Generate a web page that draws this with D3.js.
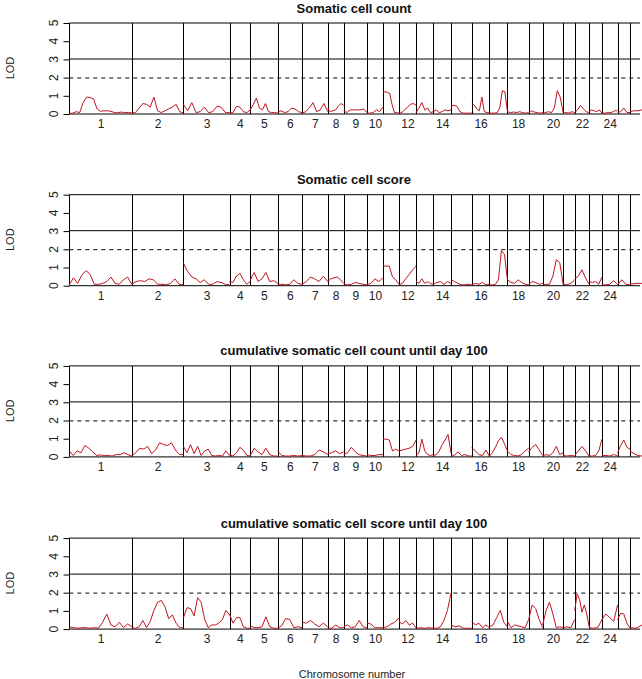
<!DOCTYPE html>
<html>
<head>
<meta charset="utf-8">
<script src="https://cdn.jsdelivr.net/npm/d3@7"></script>
<style>
  body { margin: 0; background: #fff; }
  svg { display: block; font-family: "Liberation Sans", Arial, sans-serif; }
</style>
</head>
<body>
<script>
const width = 642;
const height = 679;

// chromosome layout (cM-ish lengths, chr 26 runs off the edge)
const chrNames = d3.range(1, 27).map(String);
const chrLengths = [156, 129, 115, 52, 68, 61, 64, 40, 58, 40, 40, 43, 43, 44, 52, 44, 45, 53, 35, 51, 29, 36, 32, 39, 31, 30];
const chrShown = ["1", "2", "3", "4", "5", "6", "7", "8", "9", "10", "12", "14", "16", "18", "20", "22", "24"];

const titles = [
  "Somatic cell count",
  "Somatic cell score",
  "cumulative somatic cell count until day 100",
  "cumulative somatic cell score until day 100"
];
const lodTicks = [0, 1, 2, 3, 4, 5];
const threshold = 2;
const solidLines = [0, 3, 5];

// LOD profiles, one array per chromosome (evenly spaced along the chromosome)
const lodSCC = [
  [0, 0.02, 0.1, 0.05, 0.6, 0.9, 0.88, 0.8, 0.25, 0.12, 0.15, 0.15, 0.12, 0.05, 0.04, 0.08, 0.04, 0.06, 0.03],
  [0.02, 0.05, 0.3, 0.55, 0.5, 0.35, 0.9, 0.15, 0.05, 0.15, 0.25, 0.35, 0.5, 0.1, 0.02],
  [0.5, 0.15, 0.6, 0.05, 0.1, 0.35, 0.05, 0.1, 0.4, 0.35, 0.05, 0.05],
  [0.02, 0.05, 0.4, 0.35, 0.1, 0.05, 0.2],
  [0.2, 0.5, 0.85, 0.3, 0.2, 0.55, 0.1, 0.05, 0.05, 0.03],
  [0.05, 0.15, 0.05, 0.1, 0.3, 0.25, 0.1, 0.05],
  [0.02, 0.1, 0.3, 0.6, 0.1, 0.2, 0.55, 0.1],
  [0.3, 0.1, 0.15, 0.2, 0.4, 0.55, 0.45],
  [0.15, 0.05, 0.2, 0.2, 0.2, 0.2, 0.25, 0.05],
  [0.02, 0.02, 0.05, 0.2, 0.1, 0.35],
  [1.15, 1.2, 1.15, 1.1, 0.5, 0.05, 0.05, 0.02],
  [0.02, 0.05, 0.2, 0.35, 0.5, 0.55, 0.45],
  [0.05, 0.3, 0.6, 0.2, 0.3, 0.05, 0.1],
  [0.1, 0.2, 0.05, 0.1, 0.2, 0.15, 0.2],
  [0.4, 0.45, 0.4, 0.1, 0.02, 0.02, 0.02, 0.02],
  [0.55, 0.45, 0.25, 0.15, 0.9, 0.1, 0.05, 0.02],
  [0.02, 0.02, 0.02, 0.05, 0.3, 1.25, 1.2, 0.1],
  [0.1, 0.05, 0.08, 0.05, 0.1, 0.05, 0.02, 0.05],
  [0.02, 0.15, 0.08, 0.05, 0.02, 0.05],
  [0.02, 0.05, 0.1, 0.05, 0.3, 1.25, 0.9, 0.05],
  [0.02, 0.05, 0.02, 0.1, 0.05],
  [0.05, 0.2, 0.45, 0.25, 0.1, 0.05],
  [0.1, 0.2, 0.15, 0.1, 0.2, 0.02],
  [0.02, 0.02, 0.05, 0.05, 0.15, 0.15],
  [0.05, 0.1, 0.3, 0.05, 0.05],
  [0.1, 0.15, 0.15, 0.2]
];

const lodSCS = [
  [0.02, 0.4, 0.1, 0.55, 0.8, 0.6, 0.05, 0.05, 0.1, 0.2, 0.45, 0.1, 0.05, 0.3, 0.45, 0.05],
  [0.05, 0.2, 0.25, 0.2, 0.35, 0.3, 0.05, 0.05, 0.02, 0.1, 0.35, 0.05, 0.02],
  [1.2, 0.75, 0.45, 0.35, 0.15, 0.3, 0.05, 0.05, 0.2, 0.15, 0.05, 0.02],
  [0.2, 0.15, 0.5, 0.65, 0.3, 0.05, 0.2],
  [0.3, 0.7, 0.2, 0.35, 0.7, 0.2, 0.25, 0.1],
  [0.05, 0.05, 0.02, 0.05, 0.3, 0.1, 0.05],
  [0.05, 0.2, 0.45, 0.35, 0.2, 0.5, 0.2],
  [0.2, 0.35, 0.4, 0.45, 0.3, 0.1],
  [0.05, 0.02, 0.05, 0.15, 0.1, 0.05, 0.02],
  [0.02, 0.1, 0.35, 0.2, 0.4],
  [1.05, 1.05, 1.05, 0.45, 0.3, 0.05],
  [0.02, 0.1, 0.35, 0.6, 0.85, 1.05],
  [0.2, 0.1, 0.35, 0.1, 0.2, 0.1, 0.05],
  [0.05, 0.15, 0.2, 0.05, 0.2, 0.1],
  [0.3, 0.2, 0.1, 0.02, 0.02, 0.05, 0.02],
  [0.02, 0.1, 0.05, 0.15, 0.02, 0.05],
  [0.02, 0.02, 0.05, 0.3, 1.9, 1.7, 0.3],
  [0.3, 0.15, 0.1, 0.3, 0.15, 0.05, 0.02],
  [0.05, 0.2, 0.15, 0.05, 0.1],
  [0.02, 0.05, 0.05, 0.5, 1.4, 1.25, 0.05],
  [0.05, 0.02, 0.1, 0.3],
  [0.35, 0.5, 0.85, 0.4, 0.05],
  [0.2, 0.15, 0.2, 0.05, 0.45],
  [0.02, 0.02, 0.05, 0.25, 0.05],
  [0.02, 0.3, 0.05, 0.02],
  [0.05, 0.1, 0.1]
];

const lodCumSCC = [
  [0.3, 0.05, 0.3, 0.2, 0.6, 0.45, 0.25, 0.05, 0.08, 0.05, 0.05, 0.02, 0.1, 0.1, 0.2, 0.1, 0.02],
  [0.05, 0.2, 0.45, 0.4, 0.55, 0.15, 0.35, 0.75, 0.65, 0.6, 0.75, 0.35, 0.1, 0.1],
  [0.55, 0.2, 0.65, 0.15, 0.55, 0.05, 0.3, 0.4, 0.05, 0.02, 0.05, 0.02, 0.3, 0.05],
  [0.1, 0.02, 0.2, 0.5, 0.35, 0.05, 0.02],
  [0.05, 0.45, 0.25, 0.1, 0.45, 0.1, 0.02, 0.02],
  [0.3, 0.05, 0.02, 0.02, 0.05, 0.02, 0.05],
  [0.05, 0.02, 0.02, 0.1, 0.35, 0.25, 0.1],
  [0.15, 0.2, 0.3, 0.15, 0.25],
  [0.1, 0.2, 0.5, 0.25, 0.1, 0.05, 0.02],
  [0.1, 0.05, 0.05, 0.1, 0.1],
  [0.95, 0.95, 0.9, 0.3, 0.4, 0.3],
  [0.3, 0.35, 0.4, 0.45, 0.55, 0.9],
  [0.05, 0.2, 0.95, 0.3, 0.1, 0.05, 0.1],
  [0.05, 0.1, 0.3, 0.65, 0.9, 1.2, 0.2],
  [0.1, 0.05, 0.25, 0.05, 0.1, 0.02, 0.02],
  [0.5, 0.3, 0.1, 0.05, 0.35, 0.02],
  [0.02, 0.2, 0.5, 0.85, 1.05, 0.7, 0.3],
  [0.3, 0.1, 0.05, 0.02, 0.1, 0.3, 0.45],
  [0.25, 0.5, 0.65, 0.35, 0.05],
  [0.02, 0.1, 0.05, 0.2, 0.55, 0.1, 0.2],
  [0.05, 0.02, 0.05, 0.02],
  [0.05, 0.3, 0.55, 0.3, 0.02],
  [0.02, 0.02, 0.05, 0.3, 0.95],
  [0.05, 0.05, 0.02, 0.1, 0.05],
  [0.2, 0.6, 0.9, 0.5, 0.4],
  [0.3, 0.15, 0.05, 0.02]
];

const lodCumSCS = [
  [0.1, 0.05, 0.02, 0.05, 0.05, 0.02, 0.05, 0.02, 0.35, 0.8, 0.2, 0.1, 0.35, 0.05, 0.25, 0.1],
  [0.05, 0.02, 0.1, 0.45, 0.05, 0.4, 1.0, 1.45, 1.55, 1.2, 0.55, 0.75, 0.3, 0.05, 0.05],
  [0.6, 1.15, 1.1, 0.7, 1.7, 1.45, 0.5, 0.05, 0.2, 0.2, 0.3, 0.5, 1.0, 0.75],
  [0.8, 0.3, 0.6, 0.6, 0.1, 0.02, 0.02],
  [0.15, 0.05, 0.05, 0.1, 0.65, 0.1, 0.02, 0.02],
  [0.02, 0.15, 0.55, 0.5, 0.05, 0.1, 0.05],
  [0.35, 0.3, 0.45, 0.25, 0.1, 0.3, 0.1],
  [0.02, 0.02, 0.2, 0.05, 0.05],
  [0.1, 0.2, 0.05, 0.1, 0.45, 0.1, 0.05],
  [0.3, 0.25, 0.05, 0.05, 0.05],
  [0.05, 0.1, 0.25, 0.35, 0.6],
  [0.4, 0.25, 0.45, 0.2, 0.3, 0.02],
  [0.02, 0.05, 0.02, 0.05, 0.02],
  [0.02, 0.02, 0.1, 0.45, 1.0, 1.95],
  [0.2, 0.1, 0.15, 0.02, 0.02, 0.02],
  [0.4, 0.2, 0.3, 0.05, 0.2, 0.05],
  [0.1, 0.2, 0.6, 1.0, 0.35, 0.1],
  [0.4, 0.05, 0.2, 0.15, 0.1, 0.05, 0.5],
  [0.5, 1.3, 1.1, 0.5, 0.05],
  [0.2, 1.0, 1.45, 0.8, 0.05, 0.1, 0.05],
  [0.05, 0.1, 0.05, 0.5],
  [1.0, 1.9, 1.6, 0.9, 1.3, 0.8, 0.1],
  [0.05, 0.02, 0.05, 0.5],
  [0.5, 0.8, 0.6, 0.4, 1.3],
  [0.5, 0.85, 0.8, 0.3, 0.02],
  [0.05, 0.02, 0.2]
];

const profiles = [lodSCC, lodSCS, lodCumSCC, lodCumSCS];

// chromosome start positions
const chrStarts = [0, ...d3.cumsum(chrLengths)].slice(0, chrLengths.length);
const genomeVisible = d3.sum(chrLengths.slice(0, 25)); // chr 1-25 fit before the last line

const x = d3.scaleLinear().domain([0, genomeVisible]).range([69.3, 630]);
const plotRight = 640;
const panelHeight = 91;
const panelTops = [22.5, 194.2, 365.4, 537.6];

const svg = d3.select("body").append("svg")
  .attr("width", width)
  .attr("height", height);

const crisp = (v) => Math.round(v) + 0.5;

profiles.forEach((profile, i) => {
  const g = svg.append("g").attr("transform", `translate(0,${panelTops[i]})`);
  const y = d3.scaleLinear().domain([0, 5]).range([panelHeight, 0]);

  // horizontal reference lines
  g.selectAll("line.h")
    .data(solidLines)
    .enter()
    .append("line")
    .attr("x1", x(0)).attr("x2", plotRight)
    .attr("y1", (d) => crisp(y(d))).attr("y2", (d) => crisp(y(d)))
    .attr("stroke", "#000").attr("stroke-width", 1);

  g.append("line")
    .attr("x1", x(0)).attr("x2", plotRight)
    .attr("y1", crisp(y(threshold))).attr("y2", crisp(y(threshold)))
    .attr("stroke", "#000").attr("stroke-width", 1)
    .attr("stroke-dasharray", "4,4");

  // chromosome boundaries
  g.selectAll("line.v")
    .data(chrStarts)
    .enter()
    .append("line")
    .attr("x1", (d) => crisp(x(d))).attr("x2", (d) => crisp(x(d)))
    .attr("y1", crisp(y(0))).attr("y2", crisp(y(5)))
    .attr("stroke", "#000").attr("stroke-width", 1);

  // LOD curves, one path per chromosome
  const line = d3.line().x((d) => x(d.pos)).y((d) => y(d.lod));
  profile.forEach((vals, c) => {
    const pts = vals.map((v, k) => ({
      pos: chrStarts[c] + chrLengths[c] * k / (vals.length - 1),
      lod: v
    }));
    g.append("path")
      .datum(pts)
      .attr("d", line)
      .attr("fill", "none")
      .attr("stroke", "#c0141e")
      .attr("stroke-width", 1)
      .attr("stroke-linejoin", "round");
  });

  // y axis with rotated labels (R style)
  const yAxis = g.append("g")
    .attr("transform", `translate(${crisp(x(0))},0)`)
    .call(d3.axisLeft(y).tickValues(lodTicks).tickSize(6).tickSizeOuter(0).tickFormat(d3.format("d")));
  yAxis.select(".domain").remove();
  yAxis.selectAll(".tick line").attr("stroke", "#000").attr("transform", "translate(0,0.5)");
  yAxis.selectAll(".tick text")
    .attr("x", 0).attr("dy", 0)
    .attr("transform", "translate(-12,0) rotate(-90)")
    .attr("text-anchor", "middle")
    .attr("font-size", 12)
    .attr("font-family", "'Liberation Sans', Arial, sans-serif")
    .attr("fill", "#222");

  // chromosome labels
  const mids = chrNames.map((n, c) => chrStarts[c] + chrLengths[c] / 2);
  const xAxis = g.append("g")
    .attr("transform", `translate(0,${panelHeight})`)
    .call(d3.axisBottom(x)
      .tickValues(mids.filter((m, c) => chrShown.includes(chrNames[c])))
      .tickSize(0)
      .tickPadding(6)
      .tickFormat((m) => chrNames[mids.indexOf(m)]));
  xAxis.select(".domain").remove();
  xAxis.selectAll(".tick text")
    .attr("font-size", 12)
    .attr("font-family", "'Liberation Sans', Arial, sans-serif")
    .attr("fill", "#222");

  // "LOD" axis title
  g.append("text")
    .attr("transform", `translate(14,${panelHeight / 2}) rotate(-90)`)
    .attr("text-anchor", "middle")
    .attr("font-size", 11)
    .attr("fill", "#222")
    .text("LOD");

  // panel title
  g.append("text")
    .attr("x", 354)
    .attr("y", -10)
    .attr("text-anchor", "middle")
    .attr("font-size", 13)
    .attr("font-weight", "bold")
    .attr("fill", "#111")
    .text(titles[i]);
});

svg.append("text")
  .attr("x", 352)
  .attr("y", 678)
  .attr("text-anchor", "middle")
  .attr("font-size", 11)
  .attr("fill", "#222")
  .text("Chromosome number");
</script>
</body>
</html>
